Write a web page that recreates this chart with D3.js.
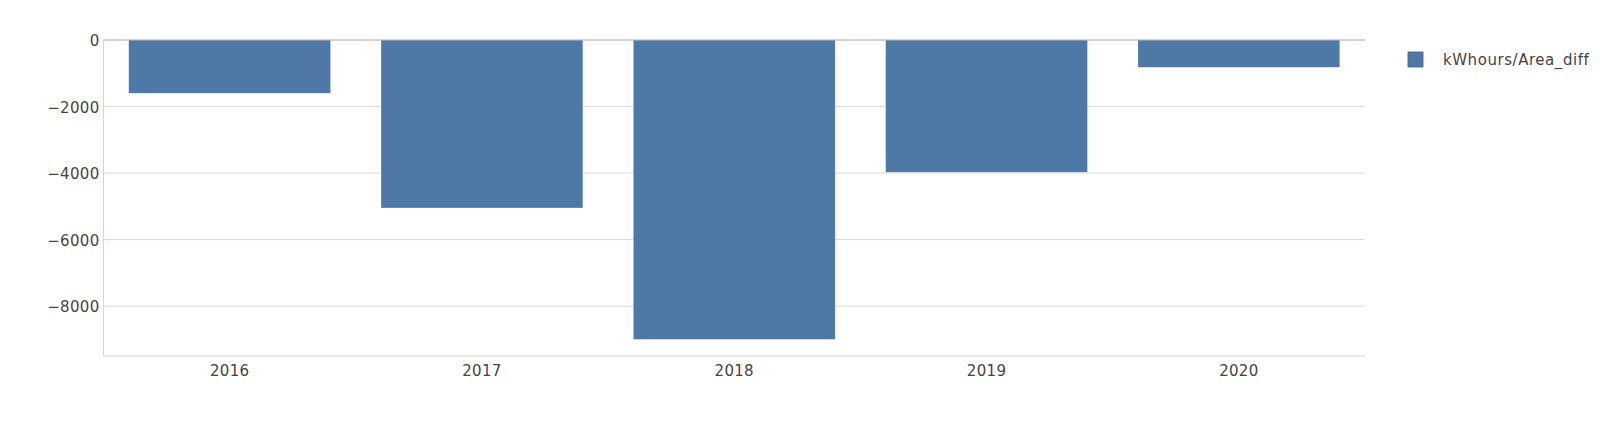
<!DOCTYPE html>
<html><head><meta charset="utf-8">
<script src="https://cdn.jsdelivr.net/npm/d3@7"></script>
<style>body{margin:0;background:#fff;}svg{display:block;font-family:"DejaVu Sans",Verdana,sans-serif;}</style>
</head><body><svg id="c" width="1600" height="430"></svg>
<script>
const categories = ["2016","2017","2018","2019","2020"];
const values = [-1600,-5050,-9000,-3975,-820];
const yTicks = [0,-2000,-4000,-6000,-8000];
const seriesName = "kWhours/Area_diff";

const svg = d3.select("#c");
const L = 103.5, R = 1365, T = 40, B = 356;
const x = d3.scaleBand().domain(categories).range([L,R]).paddingInner(0.2).paddingOuter(0.1);
const y = d3.scaleLinear().domain([-9500,0]).range([B,T]);

// gridlines
svg.append("g").selectAll("line").data(yTicks.filter(d=>d!==0)).join("line")
  .attr("x1",L).attr("x2",R).attr("y1",d=>y(d)).attr("y2",d=>y(d))
  .attr("stroke","#dcdcdc").attr("stroke-width",1);

// bars
svg.append("g").selectAll("rect").data(categories).join("rect")
  .attr("x",(d)=>x(d)).attr("width",x.bandwidth())
  .attr("y",y(0)).attr("height",(d,i)=>y(values[i])-y(0))
  .attr("fill","#4e79a7").attr("stroke","#ffffff").attr("stroke-opacity",0.5).attr("stroke-width",0.5);

// axes lines
svg.append("line").attr("x1",L).attr("x2",L).attr("y1",T).attr("y2",B).attr("stroke","#d6d6d6");
svg.append("line").attr("x1",L).attr("x2",R).attr("y1",B).attr("y2",B).attr("stroke","#d6d6d6");
svg.append("line").attr("x1",L).attr("x2",R).attr("y1",y(0)).attr("y2",y(0)).attr("stroke","#a8a8a8");

// y axis labels
const yAxis = d3.axisLeft(y).tickValues(yTicks).tickSize(0).tickPadding(4)
  .tickFormat(d=>d3.format("d")(d).replace("-","\u2212"));
const gy = svg.append("g").attr("transform",`translate(${L},1)`).call(yAxis);
gy.select(".domain").remove();
gy.selectAll("text").attr("font-size",15).attr("fill","#444").attr("letter-spacing","0.3px").attr("font-family","DejaVu Sans, Verdana, sans-serif");

// x axis labels
const xAxis = d3.axisBottom(x).tickSize(0).tickPadding(9);
const gx = svg.append("g").attr("transform",`translate(0,${B})`).call(xAxis);
gx.select(".domain").remove();
gx.selectAll("text").attr("font-size",15).attr("fill","#444").attr("letter-spacing","0.3px").attr("font-family","DejaVu Sans, Verdana, sans-serif");

// legend
const lg = svg.append("g").attr("transform","translate(1408,52)");
lg.append("rect").attr("width",15).attr("height",15).attr("fill","#4e79a7").attr("stroke","#3b5f85").attr("stroke-width",0.8);
lg.append("text").attr("x",35).attr("y",7.5).attr("dy","0.35em").attr("font-size",15).attr("letter-spacing","0.55px").attr("fill","#444").text(seriesName);
</script></body></html>
